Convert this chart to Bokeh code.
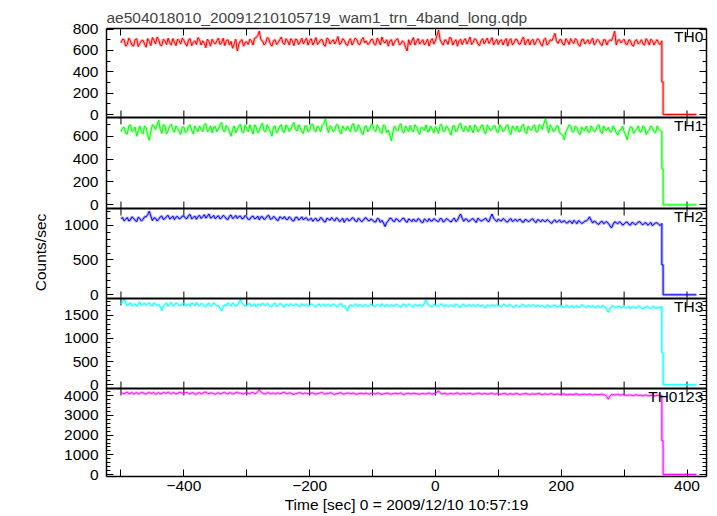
from bokeh.plotting import figure
from bokeh.models import Range1d, LinearAxis, FixedTicker, Span, Label
from bokeh.embed import file_html
from bokeh.resources import INLINE

# ---------------- data ----------------
title_text = "ae504018010_20091210105719_wam1_trn_4band_long.qdp"
x_label = "Time [sec] 0 = 2009/12/10 10:57:19"
y_label = "Counts/sec"
bands = ["TH0", "TH1", "TH2", "TH3", "TH0123"]
colors = ["#ff0000", "#00ff00", "#0000ff", "#00ffff", "#ff00ff"]

bin_start = -500      # first bin, sec
bin_width = 2.5       # sec between samples (on-bin and mid-bin values interleaved)
tail_time = [360, 362, 362, 415]

# values at -500, -495, ..., 360
th0 = [670, 700, 655, 690, 640, 710, 665, 695, 630, 685, 720, 660, 700, 645, 690, 715, 650, 680, 705, 660,
       695, 640, 710, 675, 655, 700, 690, 625, 680, 705, 660, 715, 670, 645, 700, 685, 660, 595, 690, 640,
       680, 705, 650, 720, 780, 690, 665, 710, 640, 700, 675, 725, 655, 690, 710, 645, 700, 680, 660, 715,
       690, 650, 720, 675, 700, 640, 705, 685, 660, 730, 670, 695, 645, 710, 680, 700, 655, 720, 690, 665,
       705, 650, 690, 725, 670, 640, 700, 680, 710, 660, 675, 595, 650, 720, 685, 660, 700, 675, 640, 710,
       690, 790, 670, 700, 655, 715, 680, 640, 705, 690, 660, 725, 675, 700, 645, 710, 690, 665, 720, 680,
       655, 700, 690, 640, 710, 675, 700, 660, 725, 685, 650, 705, 680, 695, 640, 715, 670, 690, 760, 665,
       700, 650, 690, 710, 665, 695, 640, 705, 680, 660, 715, 675, 690, 645, 700, 685, 690, 780, 695, 670,
       705, 655, 690, 640, 700, 675, 660, 710, 650, 690, 680, 665, 690]
# values at -497.5, -492.5, ..., 357.5
th0_mid = [705, 640, 715, 650, 700, 635, 690, 660, 710, 645, 695, 725, 650, 705, 655, 670, 710, 645, 690, 715,
           660, 700, 645, 690, 720, 650, 665, 705, 640, 675, 690, 655, 715, 690, 650, 620, 705, 660, 700, 675,
           655, 690, 715, 740, 700, 650, 720, 660, 690, 655, 700, 670, 710, 650, 690, 705, 655, 715, 690, 650,
           710, 680, 655, 700, 650, 715, 660, 700, 690, 655, 710, 660, 690, 650, 715, 660, 700, 670, 655, 700,
           660, 715, 650, 680, 700, 690, 645, 700, 655, 690, 630, 700, 690, 650, 710, 680, 650, 705, 690, 660,
           740, 700, 650, 690, 720, 650, 700, 690, 655, 710, 690, 655, 710, 660, 690, 660, 715, 690, 650, 705,
           690, 650, 710, 695, 650, 705, 660, 700, 650, 705, 690, 650, 710, 660, 700, 650, 700, 720, 690, 700,
           660, 710, 655, 680, 710, 650, 700, 660, 700, 690, 650, 705, 660, 700, 650, 700, 730, 650, 700, 690,
           660, 700, 650, 690, 660, 700, 650, 690, 705, 650, 700, 655]
th0_tail = [305, 305, 0, 0]

th1 = [640, 680, 620, 700, 655, 600, 690, 620, 675, 565, 700, 660, 740, 625, 690, 650, 705, 635, 670, 615,
       680, 645, 700, 620, 665, 690, 640, 710, 655, 630, 685, 665, 720, 640, 675, 600, 690, 655, 705, 630,
       665, 700, 620, 680, 650, 715, 640, 670, 600, 690, 655, 700, 635, 680, 660, 720, 645, 675, 625, 690,
       650, 705, 640, 670, 695, 750, 630, 680, 655, 700, 620, 665, 690, 640, 710, 650, 675, 615, 690, 660,
       700, 640, 670, 625, 685, 655, 560, 690, 645, 710, 630, 665, 695, 640, 680, 615, 670, 700, 645, 660,
       685, 625, 700, 650, 670, 610, 690, 655, 715, 640, 665, 695, 630, 680, 650, 700, 620, 675, 660, 690,
       635, 680, 655, 700, 615, 670, 690, 645, 705, 625, 665, 685, 640, 700, 660, 750, 630, 675, 650, 690,
       620, 570, 665, 690, 640, 675, 615, 660, 690, 635, 670, 650, 700, 625, 660, 680, 640, 665, 610, 655,
       640, 570, 680, 625, 660, 640, 690, 615, 655, 675, 630, 660, 640]
th1_mid = [670, 625, 690, 640, 680, 650, 640, 690, 610, 640, 690, 700, 660, 700, 620, 690, 660, 690, 640, 680,
           630, 690, 650, 690, 640, 660, 700, 640, 690, 680, 640, 700, 650, 695, 640, 660, 630, 690, 640, 700,
           640, 660, 700, 630, 690, 650, 700, 640, 680, 630, 690, 640, 700, 640, 700, 660, 700, 640, 690, 640,
           700, 650, 690, 640, 710, 680, 690, 640, 700, 640, 690, 650, 660, 700, 640, 700, 630, 680, 640, 700,
           660, 700, 640, 700, 630, 610, 640, 660, 690, 640, 690, 640, 650, 700, 640, 680, 650, 640, 690, 630,
           660, 700, 640, 690, 640, 690, 640, 700, 660, 690, 640, 660, 700, 640, 690, 640, 700, 650, 690, 640,
           700, 640, 690, 640, 690, 650, 640, 690, 640, 690, 650, 700, 640, 690, 710, 690, 700, 640, 690, 630,
           610, 640, 700, 640, 690, 630, 680, 650, 640, 690, 640, 690, 640, 690, 650, 640, 690, 630, 650, 690,
           610, 640, 680, 650, 690, 640, 680, 640, 690, 640, 690, 650]
th1_tail = [315, 315, 0, 0]

th2 = [1090, 1060, 1110, 1075, 1100, 1050, 1095, 1080, 1120, 1200, 1065, 1100, 1085, 1130, 1095, 1140, 1105, 1080, 1125, 1100,
       1130, 1095, 1150, 1110, 1085, 1140, 1120, 1100, 1160, 1115, 1090, 1135, 1105, 1125, 1080, 1145, 1110, 1095, 1130, 1100,
       1115, 1085, 1130, 1100, 1075, 1120, 1095, 1140, 1090, 1110, 1065, 1105, 1125, 1080, 1100, 1060, 1115, 1090, 1075, 1105,
       1080, 1055, 1100, 1070, 1095, 1045, 1085, 1110, 1060, 1090, 1070, 1040, 1095, 1075, 1100, 1050, 1080, 1065, 1105, 1060,
       1075, 1045, 1090, 1070, 980, 1060, 1095, 1050, 1080, 1065, 1100, 1040, 1075, 1090, 1055, 1080, 1035, 1070, 1095, 1060,
       1075, 1050, 1090, 1060, 1080, 1045, 1100, 1070, 1160, 1055, 1085, 1065, 1095, 1040, 1080, 1070, 1100, 1050, 1160, 1075,
       1090, 1060, 1080, 1045, 1095, 1070, 1055, 1085, 1040, 1075, 1060, 1090, 1035, 1070, 1080, 1050, 1065, 1025, 1075, 1055,
       1040, 1065, 1030, 1055, 1070, 1020, 1050, 1035, 1060, 1120, 1030, 1045, 1010, 1055, 1040, 1025, 960, 1050, 1020, 1035,
       1015, 1045, 1000, 1030, 1020, 1050, 1005, 1035, 1015, 990, 1030, 1010, 1025]
th2_mid = [1110, 1085, 1060, 1120, 1070, 1115, 1060, 1120, 1150, 1130, 1105, 1060, 1120, 1080, 1125, 1090, 1130, 1115, 1090, 1130,
           1100, 1140, 1090, 1130, 1125, 1095, 1150, 1130, 1100, 1140, 1120, 1090, 1140, 1090, 1130, 1095, 1140, 1125, 1090, 1140,
           1080, 1120, 1090, 1130, 1120, 1080, 1130, 1085, 1125, 1075, 1120, 1090, 1085, 1120, 1065, 1110, 1075, 1120, 1100, 1070,
           1100, 1085, 1060, 1110, 1055, 1100, 1070, 1080, 1105, 1050, 1100, 1080, 1060, 1105, 1060, 1100, 1050, 1100, 1070, 1090,
           1050, 1095, 1040, 1030, 1040, 1100, 1060, 1095, 1050, 1095, 1055, 1090, 1050, 1060, 1095, 1045, 1090, 1050, 1060, 1095,
           1060, 1095, 1045, 1095, 1060, 1080, 1050, 1120, 1100, 1090, 1050, 1085, 1060, 1100, 1055, 1085, 1060, 1110, 1100, 1050,
           1065, 1095, 1050, 1080, 1050, 1085, 1075, 1050, 1080, 1050, 1085, 1055, 1080, 1045, 1060, 1080, 1040, 1060, 1040, 1075,
           1050, 1035, 1060, 1020, 1050, 1065, 1025, 1060, 1080, 1070, 1060, 1020, 1045, 1020, 1050, 990, 1010, 1035, 1050, 1000,
           1040, 1010, 1040, 1005, 1045, 1020, 1030, 1000, 1040, 1015, 1035, 995]
th2_tail = [430, 430, 0, 0]

th3 = [1740, 1850, 1700, 1760, 1720, 1690, 1780, 1730, 1710, 1765, 1700, 1740, 1735, 1600, 1725, 1690, 1770, 1715, 1745, 1700,
       1755, 1720, 1690, 1740, 1770, 1705, 1730, 1680, 1750, 1715, 1740, 1700, 1590, 1725, 1760, 1695, 1735, 1710, 1830, 1720,
       1700, 1745, 1715, 1680, 1735, 1760, 1705, 1725, 1690, 1750, 1710, 1735, 1675, 1720, 1745, 1700, 1730, 1685, 1715, 1740,
       1705, 1725, 1680, 1740, 1710, 1690, 1730, 1700, 1720, 1685, 1750, 1705, 1590, 1725, 1695, 1715, 1735, 1680, 1710, 1700,
       1725, 1690, 1710, 1745, 1680, 1705, 1730, 1695, 1715, 1670, 1740, 1700, 1720, 1685, 1710, 1735, 1690, 1820, 1705, 1680,
       1720, 1695, 1740, 1705, 1680, 1725, 1700, 1715, 1670, 1735, 1690, 1710, 1730, 1685, 1705, 1720, 1660, 1700, 1725, 1690,
       1710, 1680, 1730, 1695, 1715, 1665, 1705, 1690, 1720, 1680, 1700, 1725, 1675, 1695, 1710, 1660, 1700, 1685, 1715, 1675,
       1695, 1670, 1710, 1685, 1660, 1700, 1680, 1715, 1665, 1690, 1705, 1655, 1685, 1700, 1670, 1560, 1690, 1660, 1680, 1650,
       1685, 1665, 1640, 1680, 1655, 1690, 1630, 1670, 1650, 1675, 1640, 1665, 1685]
th3_mid = [1790, 1760, 1740, 1700, 1745, 1740, 1710, 1760, 1740, 1710, 1760, 1700, 1680, 1690, 1760, 1740, 1700, 1760, 1710, 1750,
           1700, 1740, 1760, 1700, 1720, 1750, 1700, 1740, 1690, 1760, 1700, 1650, 1680, 1700, 1720, 1760, 1690, 1770, 1760, 1700,
           1740, 1690, 1740, 1730, 1700, 1720, 1750, 1690, 1740, 1690, 1745, 1690, 1740, 1700, 1715, 1740, 1690, 1745, 1700, 1690,
           1740, 1690, 1720, 1690, 1740, 1720, 1690, 1740, 1690, 1730, 1680, 1650, 1680, 1700, 1740, 1690, 1700, 1730, 1690, 1740,
           1690, 1730, 1690, 1700, 1730, 1690, 1700, 1735, 1690, 1720, 1690, 1740, 1690, 1730, 1690, 1700, 1760, 1740, 1690, 1730,
           1690, 1730, 1690, 1720, 1700, 1690, 1740, 1680, 1720, 1690, 1725, 1690, 1700, 1730, 1690, 1680, 1720, 1690, 1700, 1725,
           1690, 1720, 1690, 1730, 1680, 1710, 1680, 1725, 1690, 1720, 1690, 1700, 1720, 1690, 1680, 1720, 1680, 1710, 1690, 1700,
           1680, 1700, 1660, 1700, 1690, 1670, 1720, 1680, 1700, 1670, 1680, 1700, 1665, 1690, 1620, 1640, 1700, 1670, 1695, 1670,
           1650, 1690, 1670, 1660, 1690, 1650, 1670, 1690, 1640, 1690, 1660, 1650]
th3_tail = [690, 690, 0, 0]

th0123 = [4160, 4100, 4190, 4130, 4080, 4170, 4120, 4150, 4090, 4180, 4135, 4070, 4160, 4110, 4145, 4185, 4095, 4140, 4120, 4165,
          4130, 4175, 4100, 4150, 4080, 4160, 4125, 4190, 4105, 4140, 4070, 4155, 4120, 4170, 4095, 4145, 4115, 4180, 4135, 4090,
          4150, 4110, 4170, 4125, 4300, 4140, 4095, 4160, 4120, 4085, 4150, 4130, 4175, 4100, 4140, 4070, 4125, 4155, 4105, 4135,
          4110, 4150, 4080, 4130, 4165, 4095, 4120, 4140, 4070, 4115, 4155, 4090, 4130, 4105, 4145, 4075, 4120, 4100, 4140, 4085,
          4125, 4095, 4140, 4070, 4110, 4135, 4080, 4120, 4100, 4145, 4065, 4115, 4090, 4130, 4105, 4075, 4120, 4095, 4140, 4085,
          4110, 4250, 4095, 4130, 4075, 4115, 4100, 4140, 4080, 4120, 4090, 4135, 4070, 4105, 4125, 4085, 4110, 4095, 4130, 4075,
          4105, 4085, 4120, 4065, 4100, 4080, 4115, 4060, 4095, 4110, 4070, 4100, 4085, 4120, 4055, 4095, 4075, 4105, 4060, 4090,
          4070, 4095, 4050, 4080, 4065, 4100, 4045, 4075, 4060, 4090, 4040, 4070, 4055, 4080, 4035, 3830, 4065, 4040, 4075, 4030,
          4055, 4020, 4045, 4010, 4050, 4030, 3990, 4040, 4005, 4025, 3995, 4035, 4010]
th0123_mid = [4130, 4150, 4100, 4170, 4130, 4090, 4165, 4110, 4140, 4120, 4170, 4125, 4100, 4170, 4120, 4140, 4160, 4100, 4170, 4130,
              4150, 4110, 4160, 4090, 4140, 4100, 4170, 4130, 4150, 4110, 4130, 4100, 4160, 4110, 4150, 4100, 4160, 4130, 4100, 4140,
              4130, 4160, 4100, 4220, 4200, 4110, 4150, 4110, 4140, 4130, 4100, 4160, 4120, 4150, 4090, 4110, 4150, 4120, 4140, 4110,
              4140, 4100, 4120, 4150, 4110, 4130, 4150, 4090, 4110, 4140, 4100, 4120, 4140, 4120, 4090, 4110, 4130, 4115, 4100, 4120,
              4100, 4130, 4090, 4100, 4130, 4095, 4110, 4130, 4120, 4090, 4100, 4130, 4105, 4120, 4090, 4110, 4100, 4125, 4100, 4120,
              4190, 4150, 4110, 4100, 4110, 4090, 4130, 4100, 4110, 4095, 4120, 4090, 4100, 4130, 4095, 4120, 4085, 4120, 4090, 4110,
              4080, 4110, 4090, 4095, 4080, 4110, 4085, 4090, 4110, 4085, 4095, 4080, 4110, 4080, 4090, 4080, 4100, 4070, 4085, 4060,
              4090, 4060, 4070, 4060, 4095, 4060, 4070, 4080, 4055, 4065, 4060, 4050, 4075, 4050, 3950, 3980, 4050, 4060, 4040, 4060,
              4030, 4040, 4020, 4040, 4015, 4025, 4030, 4010, 4020, 4000, 4020, 4000]
th0123_tail = [1720, 1720, 0, 0]

series = [th0, th1, th2, th3, th0123]
mids = [th0_mid, th1_mid, th2_mid, th3_mid, th0123_mid]
tails = [th0_tail, th1_tail, th2_tail, th3_tail, th0123_tail]

x_ticks = [-500, -400, -300, -200, -100, 0, 100, 200, 300, 400]
x_tick_labels = ["", "\u2212400", "", "\u2212200", "", "0", "", "200", "", "400"]

y_lo = [-28, -32, -53, -80, -101]
y_hi = [805, 764, 1239, 1857, 4370]
y_major = [[0, 200, 400, 600, 800],
           [0, 200, 400, 600],
           [0, 500, 1000],
           [0, 500, 1000, 1500],
           [0, 1000, 2000, 3000, 4000]]
y_minor_step = [100, 100, 100, 100, 200]

# ---------------- layout ----------------
FONT = "Liberation Sans"
FS = "15.5px"
FW, FH = 600, 448
edges = [448, 359, 268, 178, 88, 0]   # panel borders, in frame pixels from the bottom
X0, X1 = -523, 431

p = figure(frame_width=FW, frame_height=FH, x_range=Range1d(X0, X1), y_range=Range1d(0, FH),
           output_backend="svg", toolbar_location=None,
           x_axis_location=None, y_axis_location=None,
           min_border_left=106, min_border_right=8, min_border_top=28, min_border_bottom=0,
           title=title_text)
p.grid.grid_line_color = None
p.outline_line_color = None
p.background_fill_color = "white"
p.border_fill_color = "white"

p.title.text_font = FONT
p.title.text_font_size = FS
p.title.text_font_style = "normal"
p.title.align = "left"
p.title.standoff = 5

extra = {}
maj_pos, min_pos, overrides = [], [], {}
for k in range(5):
    top, bot = edges[k], edges[k + 1]
    lo, hi = y_lo[k], y_hi[k]
    scale = (hi - lo) / (top - bot)
    extra[bands[k]] = Range1d(lo - bot * scale, lo + (FH - bot) * scale)
    for v in y_major[k]:
        g = round(bot + (v - lo) / scale, 3)
        maj_pos.append(g)
        overrides[g] = str(v)
    v = 0
    while v <= hi:
        if v not in y_major[k]:
            min_pos.append(round(bot + (v - lo) / scale, 3))
        v += y_minor_step[k]
p.extra_y_ranges = extra


def style(ax, labels):
    ax.axis_line_color = "black"
    ax.axis_line_width = 1.5
    ax.major_tick_in = 7
    ax.major_tick_out = 0
    ax.minor_tick_in = 4
    ax.minor_tick_out = 0
    ax.major_tick_line_color = "black"
    ax.minor_tick_line_color = "black"
    ax.major_label_text_font = FONT
    ax.axis_label_text_font = FONT
    ax.axis_label_text_font_size = FS
    ax.axis_label_text_font_style = "normal"
    ax.axis_label_text_color = "black"
    if labels:
        ax.major_label_text_font_size = FS
        ax.major_label_text_color = "black"
    else:
        ax.major_label_text_font_size = "1px"
        ax.major_label_text_color = None
        ax.major_label_standoff = 0


left = LinearAxis(ticker=FixedTicker(ticks=maj_pos, minor_ticks=min_pos),
                  major_label_overrides=overrides, axis_label=y_label)
style(left, True)
left.major_label_standoff = 8
left.axis_label_standoff = 12
p.add_layout(left, "left")

right = LinearAxis(ticker=FixedTicker(ticks=maj_pos, minor_ticks=min_pos))
style(right, False)
p.add_layout(right, "right")

below = LinearAxis(ticker=FixedTicker(ticks=x_ticks, minor_ticks=[]),
                   major_label_overrides={t: s for t, s in zip(x_ticks, x_tick_labels)},
                   axis_label=x_label)
style(below, True)
below.major_label_standoff = 4
below.axis_label_standoff = 2
p.add_layout(below, "below")

above = LinearAxis(ticker=FixedTicker(ticks=x_ticks, minor_ticks=[]))
style(above, False)
p.add_layout(above, "above")

# panel separators with their inward ticks
sx0, sy0, sx1, sy1 = [], [], [], []
for g in edges[1:-1]:
    p.add_layout(Span(location=g, dimension="width", line_color="black", line_width=2))
    for t in x_ticks:
        sx0 += [t, t]
        sx1 += [t, t]
        sy0 += [g, g]
        sy1 += [g + 7, g - 7]
p.segment(x0=sx0, y0=sy0, x1=sx1, y1=sy1, line_color="black", line_width=1)

# light curves (pale envelope + core line)
for k in range(5):
    ys = []
    for a, b in zip(series[k][:-1], mids[k]):
        ys += [a, b]
    ys.append(series[k][-1])
    xs = [bin_start + bin_width * i for i in range(len(ys))] + tail_time
    ys = ys + tails[k]
    p.line(xs, ys, y_range_name=bands[k], line_color=colors[k], line_width=3, line_alpha=0.3)
    p.line(xs, ys, y_range_name=bands[k], line_color=colors[k], line_width=1)
    p.add_layout(Label(x=X1 - 5, y=edges[k] + 1, text=bands[k], text_align="right",
                       text_baseline="top", text_font=FONT, text_font_size=FS,
                       text_color="black"))

open("out.html", "w").write(file_html(p, INLINE))
